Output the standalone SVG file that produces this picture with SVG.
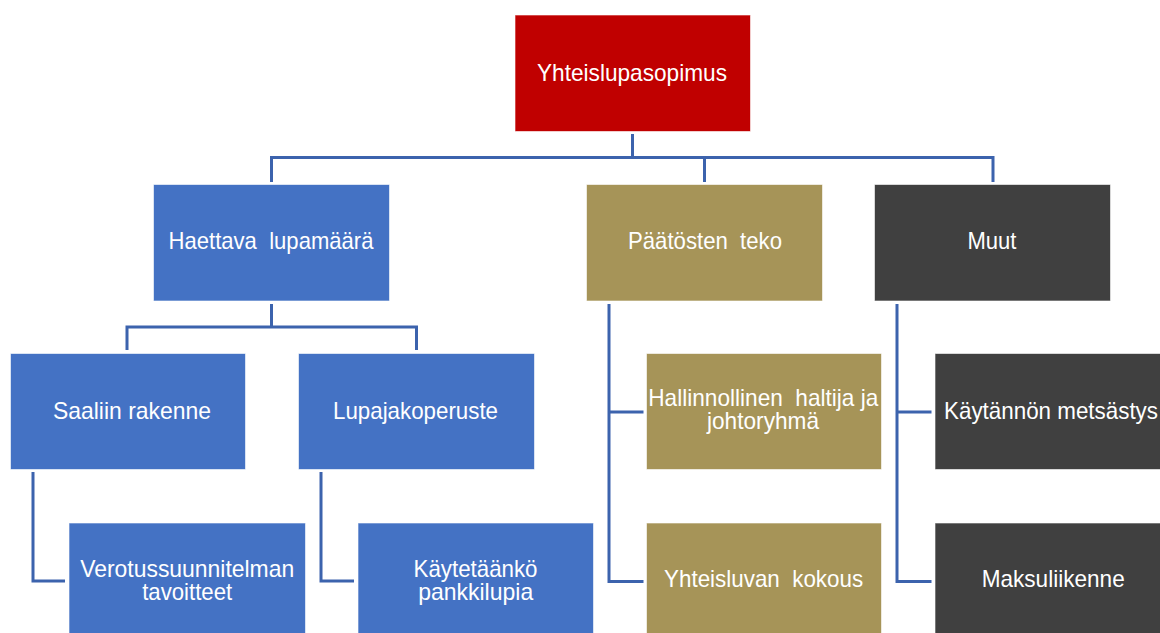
<svg xmlns="http://www.w3.org/2000/svg" width="1160" height="633" viewBox="0 0 1160 633">
<style>
.box{stroke:#ffffff;stroke-opacity:0.6;stroke-width:1}
.red{fill:#C00000}
.blue{fill:#4472C4}
.olive{fill:#A69458}
.dark{fill:#404040}
.t{font-family:"Liberation Sans",Arial,sans-serif;font-size:24px;fill:#ffffff;text-anchor:middle;white-space:pre;lengthAdjust:spacingAndGlyphs}
.c{fill:none;stroke:#3C63AD;stroke-width:3}
</style>
<rect width="1160" height="633" fill="#ffffff"/>
<g id="connectors">
<path class="c" d="M632.5 134V157.5M271.5 182V157.5H993V182M704.5 157.5V182"/>
<path class="c" d="M271.5 304V327M127 350V327H416.5V350"/>
<path class="c" d="M33 472V581H65"/>
<path class="c" d="M321 472V581H354"/>
<path class="c" d="M609 304V581.5H643.5M609 412H643.5"/>
<path class="c" d="M897 304V581.5H931.5M897 412H931.5"/>
</g>
<g id="n-root"><rect class="box red" x="515" y="15" width="235.5" height="116.5"/><text class="t" x="632" y="81" textLength="190" lengthAdjust="spacingAndGlyphs">Yhteislupasopimus</text></g>
<g id="n-haettava"><rect class="box blue" x="153.5" y="184.5" width="236" height="116.5"/><text class="t" x="271" y="249" textLength="205" lengthAdjust="spacingAndGlyphs">Haettava  lupamäärä</text></g>
<g id="n-paatosten"><rect class="box olive" x="586.5" y="184.5" width="236" height="116.5"/><text class="t" x="705" y="249" textLength="154" lengthAdjust="spacingAndGlyphs">Päätösten  teko</text></g>
<g id="n-muut"><rect class="box dark" x="874.5" y="184.5" width="236" height="116.5"/><text class="t" x="992" y="249" textLength="49" lengthAdjust="spacingAndGlyphs">Muut</text></g>
<g id="n-saaliin"><rect class="box blue" x="10.5" y="353.5" width="235" height="116"/><text class="t" x="132" y="419" textLength="158" lengthAdjust="spacingAndGlyphs">Saaliin rakenne</text></g>
<g id="n-lupajako"><rect class="box blue" x="298.5" y="353.5" width="236" height="116"/><text class="t" x="415.5" y="419" textLength="165" lengthAdjust="spacingAndGlyphs">Lupajakoperuste</text></g>
<g id="n-hallinnollinen"><rect class="box olive" x="646.5" y="353.5" width="235" height="116"/><text class="t" x="763.3" y="406" textLength="230" lengthAdjust="spacingAndGlyphs">Hallinnollinen  haltija ja</text><text class="t" x="763" y="429" textLength="112" lengthAdjust="spacingAndGlyphs">johtoryhmä</text></g>
<g id="n-kaytannon"><rect class="box dark" x="935" y="353.5" width="236" height="116"/><text class="t" x="1051" y="418.5" textLength="214" lengthAdjust="spacingAndGlyphs">Käytännön metsästys</text></g>
<g id="n-verotus"><rect class="box blue" x="69" y="523" width="236.5" height="116.5"/><text class="t" x="187.2" y="577" textLength="214" lengthAdjust="spacingAndGlyphs">Verotussuunnitelman</text><text class="t" x="187.2" y="600" textLength="90" lengthAdjust="spacingAndGlyphs">tavoitteet</text></g>
<g id="n-kaytetaanko"><rect class="box blue" x="358" y="523" width="235.5" height="116.5"/><text class="t" x="475.5" y="577" textLength="124" lengthAdjust="spacingAndGlyphs">Käytetäänkö</text><text class="t" x="475.7" y="600" textLength="115" lengthAdjust="spacingAndGlyphs">pankkilupia</text></g>
<g id="n-yhteisluvan"><rect class="box olive" x="646.5" y="523" width="235" height="116.5"/><text class="t" x="763.6" y="587" textLength="199" lengthAdjust="spacingAndGlyphs">Yhteisluvan  kokous</text></g>
<g id="n-maksuliikenne"><rect class="box dark" x="935" y="523" width="236" height="116.5"/><text class="t" x="1053.2" y="587" textLength="143" lengthAdjust="spacingAndGlyphs">Maksuliikenne</text></g>
</svg>
